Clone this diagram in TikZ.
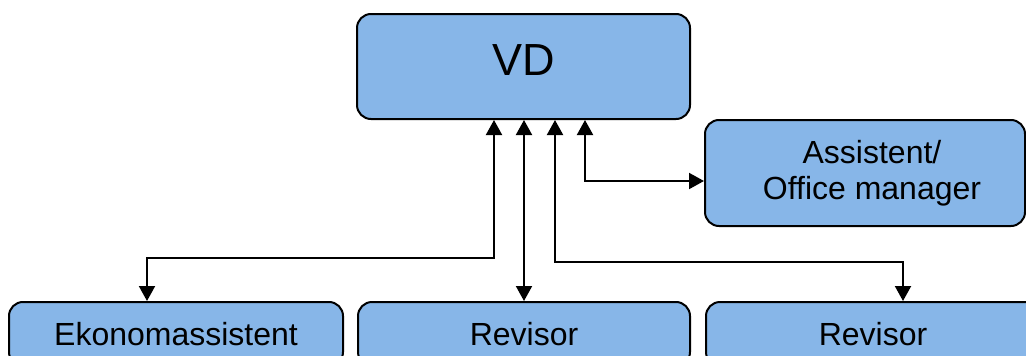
\documentclass[tikz,border=0pt]{standalone}
\usepackage{fontspec}
\setmainfont{Liberation Sans}
\usepackage{xcolor}
\usepackage{tikz}
\usetikzlibrary{arrows.meta,positioning,calc}
\definecolor{orgblue}{RGB}{135,182,232}
\tikzset{
  unit/.style={rectangle, rounded corners=14pt, draw=black, fill=orgblue, line width=2pt,
    align=center, font=\fontsize{32}{36}\selectfont},
  biarr/.style={{Triangle[length=15pt,width=16pt]}-{Triangle[length=15pt,width=16pt]}, line width=2pt},
}

\begin{document}
\begin{tikzpicture}[x=1pt, y=-1pt]
  \useasboundingbox (0,0) rectangle (1026,356);
  \clip (0,0) rectangle (1026,356);
  % top box, text sits a bit above the middle
  \node[unit, minimum width=333pt, minimum height=105pt, text height=35pt, text depth=18pt,
    font=\fontsize{45}{50}\selectfont] (vd) at (523.5,66.5) {VD};
  % text nudged right of the box centre
  \node[unit, minimum width=320pt, minimum height=106pt] (asst) at (865,173)
    {\hspace*{14pt}Assistent/\\\hspace*{14pt}Office manager};
  % bottom row, runs off the lower edge
  \node[unit, minimum width=334pt, minimum height=64pt] (ekon) at (176,334) {Ekonomassistent};
  \node[unit, minimum width=332pt, minimum height=64pt] (rev1) at (524,334) {Revisor};
  \node[unit, minimum width=334pt, minimum height=64pt] (rev2) at (873,334) {Revisor};

  % taps under VD
  \coordinate (t1) at ($(vd.south)+(-29.5,0)$);
  \coordinate (t2) at ($(vd.south)+(0.5,0)$);
  \coordinate (t3) at ($(vd.south)+(31.5,0)$);
  \coordinate (t4) at ($(vd.south)+(61.5,0)$);
  \coordinate (e1) at ($(ekon.north)+(-29,0)$);
  \coordinate (e3) at ($(rev2.north)+(30,0)$);

  \draw[biarr] (t1) |- ([yshift=43pt]e1) -- (e1);
  \draw[biarr] (t2) -- (t2 |- rev1.north);
  \draw[biarr] (t3) |- ([yshift=39pt]e3) -- (e3);
  \draw[biarr] (t4) |- ([yshift=-8pt]asst.west);
\end{tikzpicture}
\end{document}
